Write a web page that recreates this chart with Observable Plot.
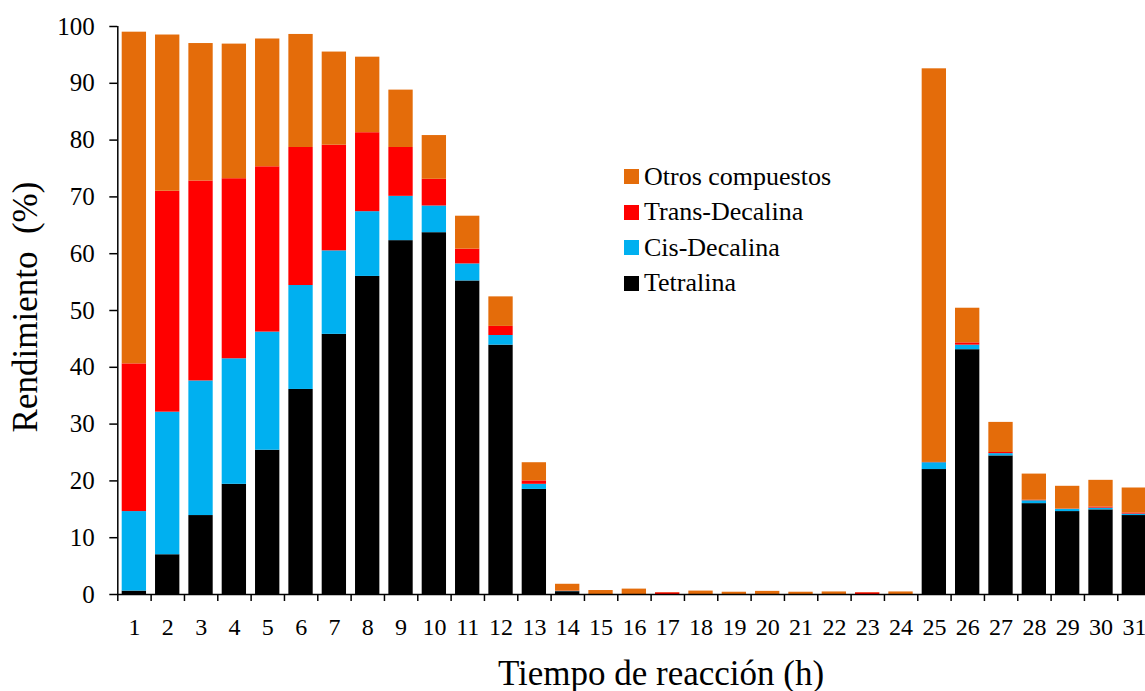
<!DOCTYPE html>
<html>
<head>
<meta charset="utf-8">
<script src="https://cdn.jsdelivr.net/npm/d3@7"></script>
<script src="https://cdn.jsdelivr.net/npm/@observablehq/plot@0.6"></script>
<style>
  html, body { margin: 0; padding: 0; background: #fff; overflow: hidden; }
  #wrap { position: relative; width: 1145px; height: 691px; font-family: "Liberation Serif", "Times New Roman", serif; }
  #chart svg { display: block; }
  .title { position: absolute; font-size: 35px; line-height: 1; white-space: nowrap; color: #000; }
  #legend { position: absolute; left: 624px; top: 159px; font-size: 26px; color: #000; }
  #legend .row { display: flex; align-items: center; height: 35.5px; }
  #legend .sw { width: 15px; height: 15px; margin-right: 5px; }
  #legend .tx { line-height: 1; white-space: nowrap; }
</style>
</head>
<body>
<div id="wrap">
  <div id="chart"></div>
  <div class="title" id="ytitle" style="left:25px; top:307px; transform: translate(-50%,-50%) rotate(-90deg);">Rendimiento&nbsp;&nbsp;(%)</div>
  <div class="title" id="xtitle" style="left:661px; top:656px; transform: translateX(-50%);">Tiempo de reacción (h)</div>
  <div id="legend"></div>
</div>
<script>
// Hours (x categories / tick labels)
const hours = d3.range(1, 32);
// Series values (%), bottom to top of each stack
const tetralina = [0.6, 7.0, 13.9, 19.4, 25.4, 36.1, 45.8, 56.0, 62.3, 63.7, 55.2, 43.9, 18.5, 0.5, 0, 0, 0, 0, 0, 0, 0, 0, 0, 0, 22.0, 43.1, 24.4, 16.0, 14.6, 14.9, 13.9];
const cisDecalina = [14.0, 25.1, 23.7, 22.1, 20.8, 18.3, 14.7, 11.4, 7.8, 4.7, 3.0, 1.7, 0.9, 0.05, 0, 0, 0, 0, 0, 0, 0, 0, 0, 0, 1.2, 0.8, 0.4, 0.5, 0.4, 0.3, 0.25];
const transDecalina = [26.0, 38.9, 35.2, 31.7, 29.1, 24.3, 18.6, 13.9, 8.6, 4.7, 2.6, 1.6, 0.6, 0.05, 0, 0, 0.3, 0, 0, 0, 0, 0, 0.3, 0, 0.05, 0.4, 0.2, 0.1, 0.05, 0.2, 0.2];
const otrosCompuestos = [58.4, 27.5, 24.2, 23.7, 22.5, 19.9, 16.4, 13.3, 10.1, 7.7, 5.8, 5.2, 3.2, 1.2, 0.7, 0.95, 0.05, 0.6, 0.4, 0.55, 0.4, 0.45, 0.05, 0.45, 69.3, 6.1, 5.3, 4.6, 4.0, 4.7, 4.4];
const yTicks = d3.range(0, 101, 10);

const seriesNames = ["Tetralina", "Cis-Decalina", "Trans-Decalina", "Otros compuestos"];
const seriesValues = [tetralina, cisDecalina, transDecalina, otrosCompuestos];
const seriesColors = ["#000000", "#00B0F0", "#FF0000", "#E46C0A"];

// Build stacked rows
const rows = [];
hours.forEach((h, i) => {
  let base = 0;
  seriesNames.forEach((name, s) => {
    const v = seriesValues[s][i];
    rows.push({hour: h, series: name, y1: base, y2: base + v});
    base += v;
  });
});

const boundaries = d3.range(0.5, hours.length + 1, 1);

const chart = Plot.plot({
  width: 1145,
  height: 691,
  marginLeft: 117.3,
  marginRight: -5.6,
  marginTop: 26,
  marginBottom: 97,
  style: {fontFamily: "Liberation Serif, Times New Roman, serif", background: "white", color: "#000"},
  x: {type: "linear", domain: [0.5, hours.length + 0.5]},
  y: {domain: [0, 100]},
  color: {domain: seriesNames, range: seriesColors},
  marks: [
    Plot.rect(rows, {
      x1: d => d.hour - 0.5,
      x2: d => d.hour + 0.5,
      y1: "y1",
      y2: "y2",
      fill: "series",
      insetLeft: 4.4,
      insetRight: 4.6
    }),
    Plot.ruleY([0], {stroke: "#000", strokeWidth: 1.5}),
    Plot.ruleX([0.5], {stroke: "#000", strokeWidth: 1.5}),
    Plot.axisY({ticks: yTicks, tickSize: 8, tickPadding: 15, fontSize: 25, label: null, strokeWidth: 1.5}),
    Plot.axisX({ticks: boundaries, tickSize: 7, tickFormat: () => "", label: null, strokeWidth: 1.5}),
    Plot.axisX({ticks: hours, tickSize: 0, tickPadding: 23, fontSize: 24, label: null, tickFormat: d => String(d)})
  ]
});
document.getElementById("chart").appendChild(chart);

// Legend (top-down order as in the reference)
const legend = document.getElementById("legend");
[3, 2, 1, 0].forEach(s => {
  const row = document.createElement("div");
  row.className = "row";
  const sw = document.createElement("div");
  sw.className = "sw";
  sw.style.background = seriesColors[s];
  const tx = document.createElement("div");
  tx.className = "tx";
  tx.textContent = seriesNames[s];
  row.appendChild(sw);
  row.appendChild(tx);
  legend.appendChild(row);
});
</script>
</body>
</html>
